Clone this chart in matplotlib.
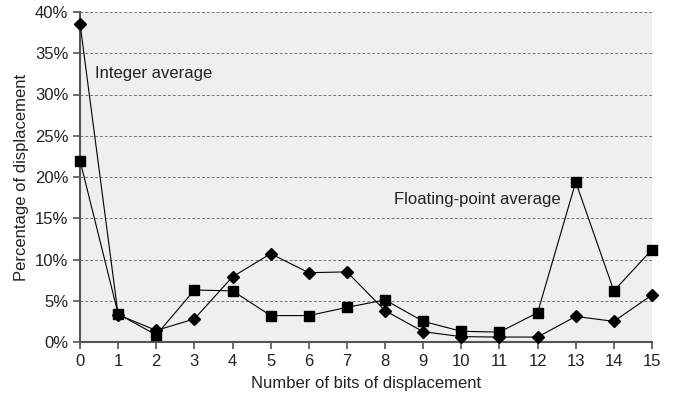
import numpy as np
import matplotlib.pyplot as plt

plt.rcParams['font.family'] = ['Liberation Sans', 'DejaVu Sans']

bits = list(range(16))
integer_avg = [38.6, 3.3, 1.4, 2.8, 7.9, 10.7, 8.4, 8.5, 3.8, 1.25, 0.65, 0.6, 0.6, 3.1, 2.5, 5.7]
float_avg = [22.0, 3.4, 0.85, 6.3, 6.2, 3.2, 3.2, 4.2, 5.1, 2.5, 1.3, 1.2, 3.55, 19.4, 6.2, 11.2]
yticks = [0, 5, 10, 15, 20, 25, 30, 35, 40]

fig = plt.figure(figsize=(6.73, 3.95), dpi=100)
ax = fig.add_axes([80/673, 1-342/395, 572/673, 330/395])
ax.set_facecolor('#efefef')

ax.plot(bits, integer_avg, color='black', lw=0.8, marker='D', ms=6, clip_on=False, zorder=3)
ax.plot(bits, float_avg, color='black', lw=0.8, marker='s', ms=6.5, clip_on=False, zorder=3)

ax.set_xlim(0, 15)
ax.set_ylim(0, 40)
ax.set_xticks(bits)
ax.set_yticks(yticks)
ax.set_yticklabels([f'{v}%' for v in yticks])
for v in yticks[1:]:
    ax.axhline(v, color='#777777', lw=0.7, ls=(0, (3, 2)), zorder=1)

for s in ['top', 'right']:
    ax.spines[s].set_visible(False)
for s in ['left', 'bottom']:
    ax.spines[s].set_color('#555555')
    ax.spines[s].set_linewidth(1.5)
ax.tick_params(colors='#555555', width=1.2, length=5, labelsize=12, labelcolor='#222222')

ax.set_xlabel('Number of bits of displacement', fontsize=12, color='#222222', labelpad=5)
ax.set_ylabel('Percentage of displacement', fontsize=12, color='#222222', labelpad=4)

ax.text(0.39, 32.6, 'Integer average', fontsize=12, color='#222222', va='center')
ax.text(12.61, 17.3, 'Floating-point average', fontsize=12, color='#222222', va='center', ha='right')

fig.savefig('out.png', dpi=100)
